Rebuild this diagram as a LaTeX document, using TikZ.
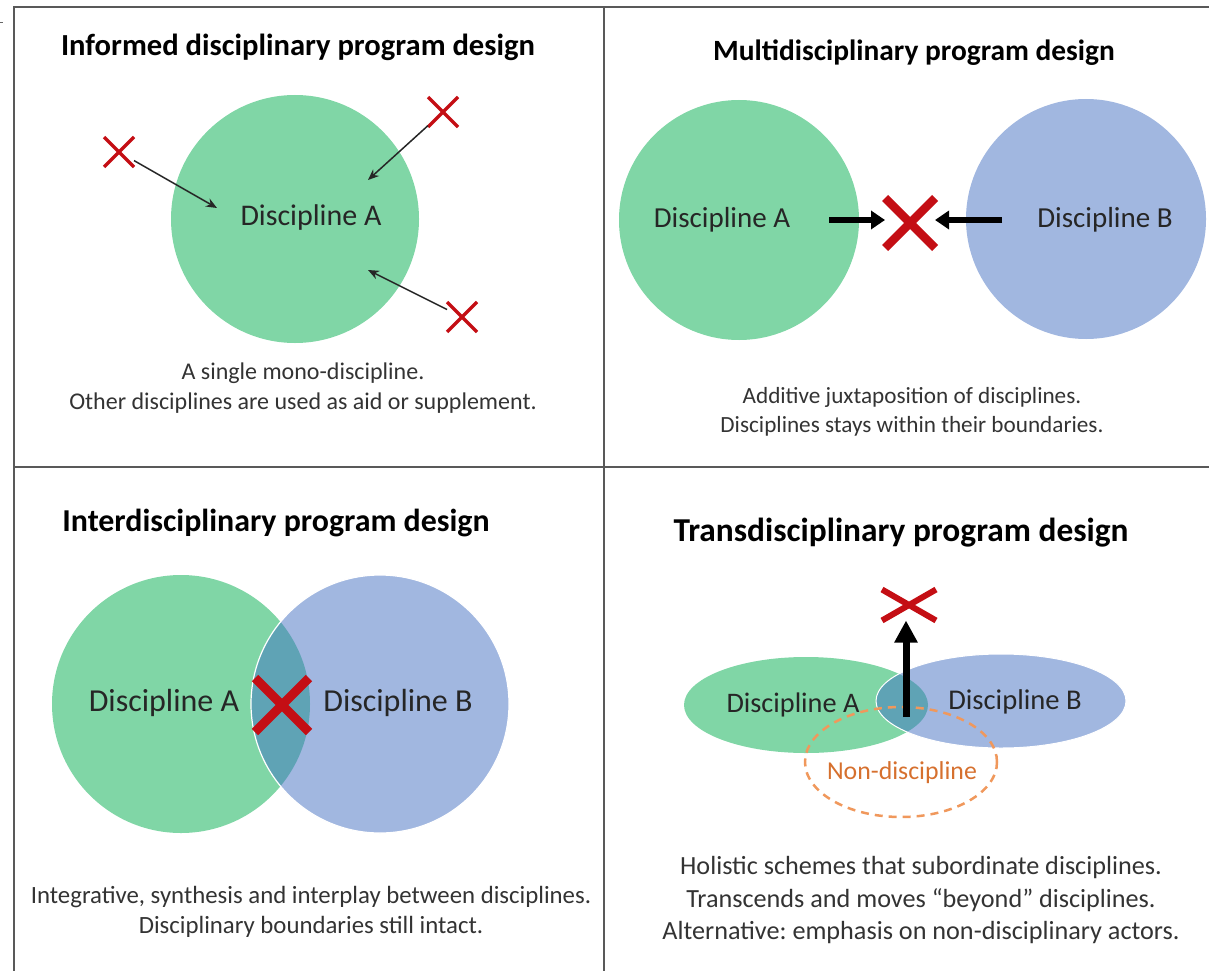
\documentclass[tikz,border=0pt]{standalone}
\usepackage{fontspec}
\setmainfont{Carlito}
\frenchspacing
\usetikzlibrary{arrows.meta,shapes.misc,shapes.geometric}

\definecolor{discgreen}{RGB}{128,214,166}
\definecolor{discblue}{RGB}{161,183,224}
\definecolor{lensteal}{RGB}{95,163,181}
\definecolor{crossred}{RGB}{196,14,20}
\definecolor{nondash}{RGB}{240,152,92}
\definecolor{nontext}{RGB}{214,112,46}

\tikzset{
  frame/.style={draw=black!65,line width=1.6pt},
  ptitle/.style={font=\bfseries\fontsize{#1}{36}\selectfont,text=black},
  dlabel/.style={font=\fontsize{#1}{36}\selectfont,text=black!85},
  caption/.style={font=\fontsize{24}{#1}\selectfont,align=center,text=black!80},
  disc/.style={circle,fill=#1,inner sep=0pt},
  oval/.style={ellipse,fill=#1,inner sep=0pt},
  nope/.style={cross out,draw=crossred,line width=3.5pt,minimum size=24pt,inner sep=0pt,outer sep=3pt},
  bignope/.style={cross out,draw=crossred,line width=8.5pt,minimum size=40pt,inner sep=0pt,outer sep=5pt},
  thinarrow/.style={-{Stealth[length=11pt,width=9pt]},line width=1.5pt,black!85},
  fatarrow/.style={-{Triangle[length=14pt,width=18pt]},line width=6pt,black}
}

\begin{document}
\begin{tikzpicture}[x=1pt,y=-1pt]
  \useasboundingbox (0,0) rectangle (1209,971);
  \draw[frame] (13,7) -- (1209,7);
  \draw[frame] (14,7) -- (14,971);
  \draw[frame] (604,7) -- (604,971);
  \draw[frame] (14,467) -- (1209,467);
  \draw[black!60,line width=0.8pt] (0,22) -- (3,22);

  % informed
  \node[ptitle=30.6] (t1) at (298,47) {Informed disciplinary program design};
  \node[disc=discgreen,minimum size=248pt] (c1) at (295,219) {};
  \node[dlabel=30] (a1) at (311,218) {Discipline A};
  \node[nope] (x1) at (119,152) {};
  \node[nope] (x2) at (443,112) {};
  \node[nope] (x3) at (462,317) {};
  \coordinate (p1) at (217,208);
  \coordinate (p2) at (368,180);
  \coordinate (p3) at (368,270);
  \draw[thinarrow] (x1) -- (p1);
  \draw[thinarrow] (x2) -- (p2);
  \draw[thinarrow] (x3) -- (p3);
  \node[caption=30] (d1) at (303,388)
    {A single mono-discipline.\\Other disciplines are used as aid or supplement.};

  % multi
  \node[ptitle=29.4] (t2) at (914,53) {Multidisciplinary program design};
  \node[disc=discgreen,minimum size=240pt] (c2a) at (739,220) {};
  \node[disc=discblue,minimum size=240pt] (c2b) at (1086,219) {};
  \node[dlabel=29] (a2) at (722,220) {Discipline A};
  \node[dlabel=29] (b2) at (1105,220) {Discipline B};
  \node[bignope] (x4) at (910,223) {};
  \coordinate (s2a) at (829,220);
  \coordinate (s2b) at (1002,220);
  \draw[fatarrow] (s2a) -- (x4.west |- s2a);
  \draw[fatarrow] (s2b) -- (x4.east |- s2b);
  \node[caption=29,font=\fontsize{23.2}{29}\selectfont] (d2) at (912,411.5)
    {Additive juxtaposition of disciplines.\\Disciplines stays within their boundaries.};

  % inter
  \node[ptitle=31.9] (t3) at (276,523) {Interdisciplinary program design};
  \node[disc=discgreen,minimum size=258pt] (c3a) at (181,704) {};
  \node[disc=discblue,minimum size=258pt] (c3b) at (380,704) {};
  \begin{scope}
    \clip (181,704) circle (129pt);
    \fill[lensteal] (380,704) circle (129pt);
  \end{scope}
  \draw[white,line width=1.2pt] (380,704) circle (129pt);
  \node[dlabel=32] (a3) at (164,703) {Discipline A};
  \node[dlabel=32] (b3) at (398,703) {Discipline B};
  \node[bignope,minimum size=44pt,line width=9pt] (x5) at (282,705) {};
  \node[caption=30,font=\fontsize{24.8}{30}\selectfont] (d3) at (311,912)
    {Integrative, synthesis and interplay between disciplines.\\Disciplinary boundaries still intact.};

  % trans
  \node[ptitle=33.4] (t4) at (901,533) {Transdisciplinary program design};
  \node[oval=discgreen,minimum width=244pt,minimum height=96pt] (c4a) at (806,705) {};
  \node[oval=discblue,minimum width=250pt,minimum height=94pt] (c4b) at (1001,701) {};
  \begin{scope}
    \clip (806,705) ellipse [x radius=122pt,y radius=48pt];
    \fill[lensteal] (1001,701) ellipse [x radius=125pt,y radius=47pt];
  \end{scope}
  \draw[white,line width=1pt] (1001,701) ellipse [x radius=125pt,y radius=47pt];
  \node[ellipse,draw=nondash,dash pattern=on 8pt off 6pt,line width=2.5pt,
    minimum width=192pt,minimum height=110pt] (n4) at (901,762) {};
  \node[dlabel=28.3] (a4) at (793,705) {Discipline A};
  \node[dlabel=28.6] (b4) at (1015,702) {Discipline B};
  \node[font=\fontsize{25.8}{30}\selectfont,text=nontext] (nd) at (902,773) {Non-discipline};
  \node[cross out,draw=crossred,line width=6pt,minimum width=46pt,minimum height=23pt,
    inner sep=0pt,outer sep=4pt] (x6) at (909,605) {};
  \coordinate (s4) at (906,717);
  \draw[-{Triangle[length=22pt,width=22pt]},line width=7pt] (s4) -- (s4 |- x6.south);
  \node[caption=32.5,font=\fontsize{26.2}{32.5}\selectfont] (d4) at (921,900.5)
    {Holistic schemes that subordinate disciplines.\\Transcends and moves \textquotedblleft beyond\textquotedblright\ disciplines.\\Alternative: emphasis on non-disciplinary actors.};
\end{tikzpicture}
\end{document}
